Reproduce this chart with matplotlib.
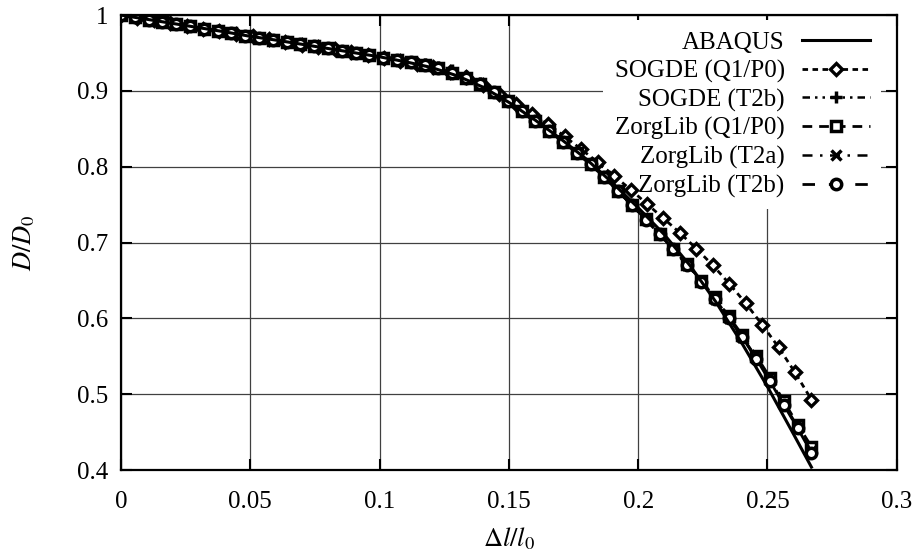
import matplotlib
matplotlib.use("Agg")
import matplotlib.pyplot as plt
from matplotlib.ticker import FuncFormatter

plt.rcParams["font.family"] = ["Liberation Serif", "DejaVu Serif"]
plt.rcParams["mathtext.fontset"] = "stix"
plt.rcParams["font.size"] = 18

# ABAQUS reference (solid line)
x_abaqus = [0.0, 0.01, 0.02, 0.03, 0.04, 0.05, 0.06, 0.07, 0.08, 0.09, 0.10,
            0.11, 0.12, 0.13, 0.14, 0.15, 0.16, 0.17, 0.18, 0.19, 0.20,
            0.21, 0.22, 0.23, 0.24, 0.25, 0.26, 0.267]
y_abaqus = [1.000, 0.9945, 0.989, 0.9835, 0.978, 0.972, 0.967, 0.9615, 0.956, 0.9505, 0.945,
            0.9385, 0.931, 0.920, 0.905, 0.885, 0.862, 0.837, 0.810, 0.779, 0.746,
            0.711, 0.670, 0.622, 0.568, 0.510, 0.448, 0.404]

# SOGDE (Q1/P0)
x_sogde_q1 = [0.0, 0.0064, 0.0127, 0.0191, 0.0254, 0.0318, 0.0381, 0.0445, 0.0509, 0.0572,
              0.0636, 0.0699, 0.0763, 0.0826, 0.0890, 0.0954, 0.1017, 0.1081, 0.1144, 0.1208,
              0.1271, 0.1335, 0.1399, 0.1462, 0.1526, 0.1589, 0.1653, 0.1716, 0.1780, 0.1844,
              0.1907, 0.1971, 0.2034, 0.2098, 0.2161, 0.2225, 0.2289, 0.2352, 0.2416, 0.2479,
              0.2543, 0.2606, 0.2670]
y_sogde_q1 = [1.000, 0.9965, 0.993, 0.9895, 0.986, 0.982, 0.979, 0.975, 0.972, 0.968,
              0.965, 0.961, 0.958, 0.955, 0.951, 0.948, 0.944, 0.940, 0.936, 0.931,
              0.925, 0.918, 0.908, 0.896, 0.883, 0.869, 0.856, 0.840, 0.823, 0.806,
              0.788, 0.770, 0.751, 0.732, 0.713, 0.692, 0.670, 0.646, 0.620, 0.592,
              0.562, 0.529, 0.493]

# ZorgLib / SOGDE (T2b) share the same load steps
x_steps = [0.0, 0.0053, 0.0107, 0.0160, 0.0214, 0.0267, 0.0320, 0.0374, 0.0427, 0.0481,
           0.0534, 0.0587, 0.0641, 0.0694, 0.0748, 0.0801, 0.0854, 0.0908, 0.0961, 0.1015,
           0.1068, 0.1121, 0.1175, 0.1228, 0.1282, 0.1335, 0.1388, 0.1442, 0.1495, 0.1549,
           0.1602, 0.1655, 0.1709, 0.1762, 0.1816, 0.1869, 0.1922, 0.1976, 0.2029, 0.2083,
           0.2136, 0.2189, 0.2243, 0.2296, 0.2350, 0.2403, 0.2456, 0.2510, 0.2563, 0.2617,
           0.2670]
y_sogde_t2b = [1.000, 0.997, 0.994, 0.991, 0.988, 0.985, 0.982, 0.979, 0.976, 0.973,
               0.970, 0.967, 0.964, 0.962, 0.959, 0.956, 0.953, 0.950, 0.947, 0.944,
               0.941, 0.938, 0.935, 0.932, 0.927, 0.920, 0.910, 0.899, 0.887, 0.874,
               0.861, 0.847, 0.833, 0.818, 0.803, 0.786, 0.768, 0.749, 0.731, 0.712,
               0.692, 0.672, 0.650, 0.627, 0.602, 0.576, 0.549, 0.519, 0.488, 0.457,
               0.426]
y_zorg_q1 = [1.000, 0.997, 0.994, 0.991, 0.988, 0.985, 0.982, 0.979, 0.976, 0.973,
             0.970, 0.967, 0.964, 0.962, 0.959, 0.956, 0.953, 0.950, 0.947, 0.944,
             0.941, 0.938, 0.934, 0.930, 0.924, 0.917, 0.909, 0.898, 0.887, 0.874,
             0.861, 0.847, 0.833, 0.818, 0.803, 0.786, 0.768, 0.749, 0.731, 0.712,
             0.692, 0.672, 0.650, 0.628, 0.603, 0.578, 0.551, 0.522, 0.491, 0.460,
             0.431]
y_zorg_t2a = [1.000, 0.997, 0.994, 0.991, 0.988, 0.985, 0.982, 0.979, 0.976, 0.973,
              0.970, 0.967, 0.964, 0.962, 0.959, 0.956, 0.953, 0.950, 0.947, 0.944,
              0.941, 0.938, 0.934, 0.930, 0.924, 0.917, 0.909, 0.898, 0.887, 0.874,
              0.861, 0.847, 0.833, 0.818, 0.803, 0.786, 0.768, 0.749, 0.731, 0.711,
              0.691, 0.671, 0.649, 0.626, 0.601, 0.575, 0.548, 0.518, 0.487, 0.456,
              0.425]
y_zorg_t2b = [1.000, 0.997, 0.994, 0.991, 0.988, 0.985, 0.982, 0.979, 0.976, 0.973,
              0.970, 0.967, 0.964, 0.962, 0.959, 0.956, 0.953, 0.950, 0.947, 0.944,
              0.941, 0.938, 0.934, 0.930, 0.924, 0.917, 0.909, 0.898, 0.887, 0.874,
              0.861, 0.847, 0.833, 0.818, 0.803, 0.786, 0.768, 0.749, 0.730, 0.711,
              0.691, 0.670, 0.648, 0.626, 0.601, 0.575, 0.547, 0.517, 0.486, 0.455,
              0.423]

x_ticks = [0, 0.05, 0.1, 0.15, 0.2, 0.25, 0.3]
y_ticks = [0.4, 0.5, 0.6, 0.7, 0.8, 0.9, 1.0]

fig = plt.figure(figsize=(9.16, 5.59), dpi=100)
ax = fig.add_axes([0.132, 0.159, 0.847, 0.814])

ax.plot(x_abaqus, y_abaqus, color="black", lw=2.2, label="ABAQUS", zorder=3)
ax.plot(x_sogde_q1, y_sogde_q1, color="black", lw=2, dashes=(2, 1.6),
        marker="D", ms=6.5, mfc="white", mew=2.4, label="SOGDE (Q1/P0)", zorder=2)
ax.plot(x_steps, y_sogde_t2b, color="black", lw=1.8, dashes=(3, 2, 1, 2, 1, 2),
        marker="+", ms=9, mew=2.5, label="SOGDE (T2b)", zorder=2)
ax.plot(x_steps, y_zorg_q1, color="black", lw=2, dashes=(3.5, 2.5),
        marker="s", ms=7.5, mfc="white", mew=2.5, label="ZorgLib (Q1/P0)", zorder=2)
ax.plot(x_steps, y_zorg_t2a, color="black", lw=1.8, dashes=(4, 3, 1, 3),
        marker="x", ms=7.5, mew=2.5, label="ZorgLib (T2a)", zorder=2)
ax.plot(x_steps, y_zorg_t2b, color="black", lw=2, dashes=(4.5, 5),
        marker="o", ms=7.5, mfc="white", mew=2.5, label="ZorgLib (T2b)", zorder=2)

ax.set_xlim(0, 0.3)
ax.set_ylim(0.4, 1.0)
ax.set_xticks(x_ticks)
ax.set_yticks(y_ticks)
fmt = FuncFormatter(lambda v, p: "%g" % round(v, 3))
ax.xaxis.set_major_formatter(fmt)
ax.yaxis.set_major_formatter(fmt)
ax.tick_params(direction="in", length=8, width=1.5, top=True, right=True, labelsize=18)
ax.tick_params(axis="x", pad=15)
ax.tick_params(axis="y", pad=9)
ax.set_axisbelow(True)
ax.grid(True, color="0.25", lw=0.9)
for s in ax.spines.values():
    s.set_linewidth(1.6)

ax.set_xlabel(r"$\Delta l/l_0$", fontsize=19, labelpad=9)
ax.set_ylabel(r"$D/D_0$", fontsize=19, labelpad=29)

leg = ax.legend(loc="upper right", bbox_to_anchor=(0.986, 1.0), markerfirst=False,
                handlelength=2.7, handletextpad=0.7, labelspacing=0.23,
                borderaxespad=0.2, borderpad=0.45, frameon=True, fancybox=False,
                fontsize=18)
leg.get_frame().set_edgecolor("none")
leg.get_frame().set_facecolor("white")
leg.get_frame().set_alpha(1)
leg.set_zorder(1)
for col in leg._legend_box.get_children()[1].get_children():
    col.align = "right"

fig.savefig("out.png", dpi=100)
